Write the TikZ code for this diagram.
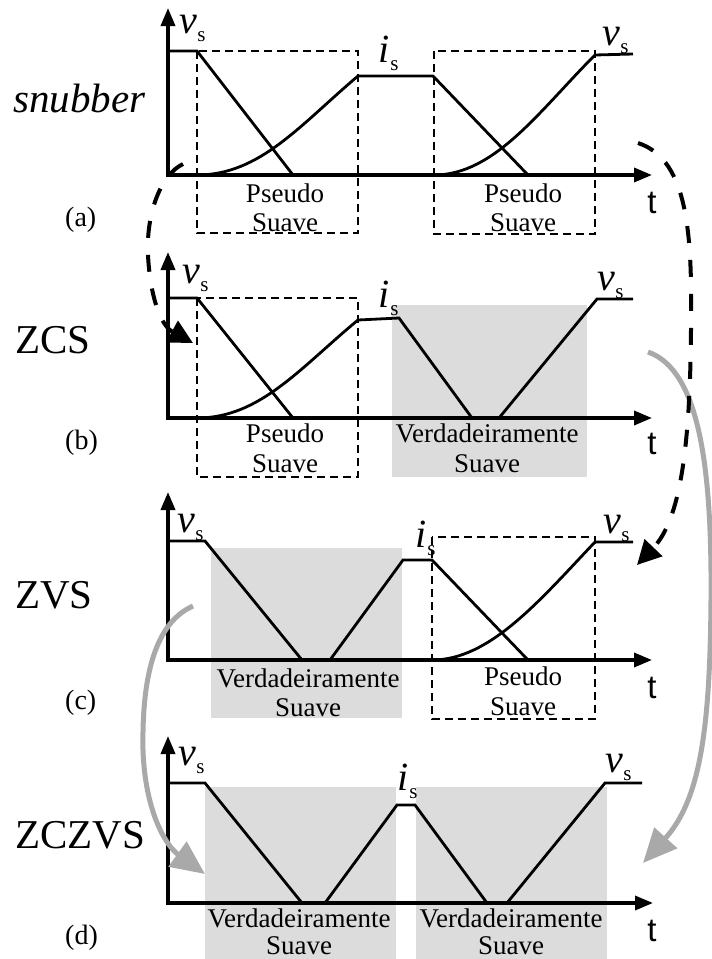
\documentclass[tikz,border=0pt]{standalone}
\usepackage{fontspec}
\setmainfont{Liberation Serif}
\newfontfamily\tfont{Liberation Sans}
\usetikzlibrary{arrows.meta}
\definecolor{shade}{HTML}{DCDCDC}
\definecolor{arrgrey}{HTML}{A9A9A9}
\newcommand\mylabv{{\fontsize{40}{40}\selectfont\itshape v}\kern0.5pt\raisebox{-8pt}{\fontsize{21}{21}\selectfont s}}
\newcommand\mylabi{{\fontsize{40}{40}\selectfont\itshape i}\kern1pt\raisebox{-8pt}{\fontsize{21}{21}\selectfont s}}
\tikzset{
  axis/.style={line width=3.5pt, {Triangle[length=18pt,width=14pt]}-{Triangle[length=18pt,width=14pt]}},
  wave/.style={line width=2.8pt},
  dbox/.style={line width=1.6pt, dash pattern=on 8pt off 5pt},
  shadebox/.style={fill=shade, draw=none},
  lbl/.style={inner sep=0pt, anchor=base west},
  ctext/.style={inner sep=0pt, anchor=base, font=\fontsize{27}{27}\selectfont},
  bigl/.style={inner sep=0pt, anchor=base west, font=\fontsize{41}{41}\selectfont},
  plbl/.style={inner sep=0pt, anchor=base west, font=\fontsize{28}{28}\selectfont},
  tl/.style={inner sep=0pt, anchor=base, font=\tfont\fontsize{33}{33}\selectfont},
  darr/.style={line width=4pt, dash pattern=on 17pt off 17pt, -{Triangle[length=24pt,width=24pt]}},
  garr/.style={draw=arrgrey, line width=5pt, -{Triangle[length=34pt,width=30pt]}}
}
\begin{document}
\begin{tikzpicture}[x=1pt,y=-1pt]
\useasboundingbox (0,0) rectangle (712,959);
\fill[white] (0,0) rectangle (712,959);

% ---------- shaded regions ----------
\fill[shadebox] (392,305) rectangle (587,477);
\fill[shadebox] (211,548) rectangle (402,718);
\fill[shadebox] (205,787) rectangle (396,959);
\fill[shadebox] (416,787) rectangle (607,959);

% ---------- dashed boxes ----------
\draw[dbox] (197,51) rectangle (358,233);
\draw[dbox] (434,51) rectangle (595,234);
\draw[dbox] (197,298) rectangle (358,477);
\draw[dbox] (432,537) rectangle (595,719);

% ---------- axes ----------
\draw[axis] (168,8) -- (168,175) -- (652,175);
\draw[axis] (168,252) -- (168,418) -- (652,418);
\draw[axis] (168,492) -- (168,660) -- (652,660);
\draw[axis] (168,736) -- (168,903) -- (653,903);

% ---------- waveforms (a) ----------
\draw[wave] (168,51) -- (197,51) -- (293,175);
\draw[wave] (197,175) .. controls (260,175) and (300,125) .. (358,76) -- (433,76) -- (528,175);
\draw[wave] (434,175) .. controls (495,175) and (540,110) .. (595,55) -- (633,54);
% ---------- waveforms (b) ----------
\draw[wave] (168,298) -- (197,298) -- (293,418);
\draw[wave] (197,418) .. controls (260,418) and (300,368) .. (358,320) -- (399,318) -- (472,418);
\draw[wave] (499,418) -- (597,299) -- (633,299);
% ---------- waveforms (c) ----------
\draw[wave] (168,541) -- (205,541) -- (302,660);
\draw[wave] (330,660) -- (403,560) -- (432,560) -- (528,660);
\draw[wave] (432,660) .. controls (490,660) and (540,600) .. (595,542) -- (633,542);
% ---------- waveforms (d) ----------
\draw[wave] (168,783) -- (205,783) -- (302,903);
\draw[wave] (325,903) -- (397,805) -- (415,805) -- (487,903);
\draw[wave] (507,903) -- (605,783) -- (642,783);

% ---------- signal labels ----------
\node[lbl] (va1) at (179,33) {\mylabv};
\node[lbl] (ia) at (378,62) {\mylabi};
\node[lbl] (va2) at (602,45) {\mylabv};
\node[lbl] (vb1) at (182,283) {\mylabv};
\node[lbl] (ib) at (378,307) {\mylabi};
\node[lbl] (vb2) at (597,290) {\mylabv};
\node[lbl] (vc1) at (177,532) {\mylabv};
\node[lbl] (ic) at (415,547) {\mylabi};
\node[lbl] (vc2) at (603,533) {\mylabv};
\node[lbl] (vd1) at (178,765) {\mylabv};
\node[lbl] (id) at (397,790) {\mylabi};
\node[lbl] (vd2) at (605,772) {\mylabv};

% ---------- t labels ----------
\node[tl] (ta) at (652,213) {t};
\node[tl] (tb) at (652,454) {t};
\node[tl] (tc) at (652,698) {t};
\node[tl] (td) at (652,941) {t};

% ---------- region texts ----------
\node[ctext] (pa1) at (285,202) {Pseudo};
\node[ctext] (sa1) at (285,231) {Suave};
\node[ctext] (pa2) at (523,202) {Pseudo};
\node[ctext] (sa2) at (523,231) {Suave};
\node[ctext] (pb1) at (285,442) {Pseudo};
\node[ctext] (sb1) at (285,472) {Suave};
\node[ctext] (vb) at (487,442) {Verdadeiramente};
\node[ctext] (svb) at (487,472) {Suave};
\node[ctext] (vc) at (308,687) {Verdadeiramente};
\node[ctext] (svc) at (308,716) {Suave};
\node[ctext] (pc) at (523,685) {Pseudo};
\node[ctext] (sc) at (523,715) {Suave};
\node[ctext] (vd1t) at (299,927) {Verdadeiramente};
\node[ctext] (svd1) at (299,954) {Suave};
\node[ctext] (vd2t) at (511,927) {Verdadeiramente};
\node[ctext] (svd2) at (511,954) {Suave};

% ---------- left labels ----------
\node[bigl, font=\fontsize{41}{41}\selectfont\itshape] (snub) at (13,112) {snubber};
\node[plbl] (la) at (65,226) {(a)};
\node[bigl] (zcs) at (15,353) {ZCS};
\node[plbl] (lb) at (65,449) {(b)};
\node[bigl] (zvs) at (15,608) {ZVS};
\node[plbl] (lc) at (65,709) {(c)};
\node[bigl] (zczvs) at (15,848) {ZCZVS};
\node[plbl] (ld) at (65,944) {(d)};

% ---------- connectors ----------
\coordinate (g1s) at (648,352);
\coordinate (g1e) at (643,863);
\coordinate (g2s) at (193,606);
\coordinate (g2e) at (205,874);
\draw[garr] (g1s) .. controls (700,370) and (712,470) .. (711,600) .. controls (710,730) and (700,800) .. (g1e);
\draw[garr] (g2s) .. controls (150,625) and (142,690) .. (143,750) .. controls (145,810) and (165,845) .. (g2e);

\coordinate (d1s) at (183,164);
\coordinate (d1e) at (193,343);
\coordinate (d2s) at (638,143);
\coordinate (d2e) at (637,565);
\draw[darr] (d1s) .. controls (160,175) and (146,215) .. (148,255) .. controls (150,295) and (160,325) .. (d1e);
\draw[darr] (d2s) .. controls (690,160) and (692,240) .. (691,330) .. controls (690,450) and (680,520) .. (d2e);
\end{tikzpicture}
\end{document}
